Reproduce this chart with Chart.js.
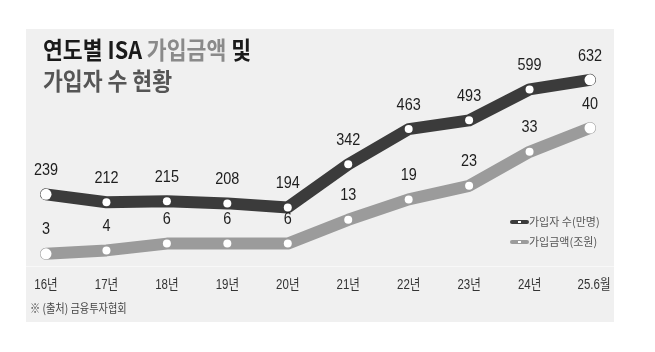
<!DOCTYPE html>
<html><head><meta charset="utf-8">
<script src="https://cdn.jsdelivr.net/npm/chart.js@4/dist/chart.umd.min.js"></script>
<style>html,body{margin:0;padding:0;background:#fff}#w{width:655px;height:352px}</style>
</head><body><div id="w"><canvas id="c" width="655" height="352"></canvas></div>
<script>
const categories = ['16년','17년','18년','19년','20년','21년','22년','23년','24년','25.6월'];
const subscribers = [239,212,215,208,194,342,463,493,599,632];
const amounts = [3,4,6,6,6,13,19,23,33,40];
const seriesNames = ['가입자 수(만명)','가입금액(조원)'];

const DARK = '#3b3b3b', GRAY = '#9b9b9b';
const NUM_FONT = '17px "Liberation Sans", Arial, sans-serif';
const KR = '"Noto Sans CJK KR", "Noto Sans", sans-serif';

const n = categories.length;
const radii = categories.map((_, i) => (i === 0 || i === n - 1) ? 5.5 : 4);

function squeezed(ctx, text, x, y, sx) {
  ctx.save();
  ctx.translate(x, y);
  ctx.scale(sx, 1);
  ctx.fillText(text, 0, 0);
  ctx.restore();
}

const deco = {
  id: 'deco',
  beforeDraw(chart) {
    const ctx = chart.ctx;
    ctx.save();
    ctx.fillStyle = '#fff';
    ctx.fillRect(0, 0, 655, 352);
    ctx.fillStyle = '#f0f0f0';
    ctx.fillRect(26, 29, 588, 293);
    ctx.strokeStyle = '#f8f8f8';
    ctx.lineWidth = 1;
    ctx.beginPath(); ctx.moveTo(26, 266.5); ctx.lineTo(614, 266.5); ctx.stroke();
    // title
    ctx.textBaseline = 'middle';
    ctx.textAlign = 'left';
    ctx.font = 'bold 24px ' + KR;
    const sx = 0.9;
    let x = 43;
    const parts = [['연도별 ISA ', '#1a1a1a'], ['가입금액', '#8a8a8a'], [' 및', '#1a1a1a']];
    for (const [t, c] of parts) { ctx.fillStyle = c; squeezed(ctx, t, x, 50, sx); x += ctx.measureText(t).width * sx; }
    ctx.fillStyle = '#555';
    squeezed(ctx, '가입자 수 현황', 43, 81, sx);
    ctx.restore();
  },
  afterDatasetsDraw(chart) {
    const ctx = chart.ctx;
    ctx.save();
    // data labels
    ctx.font = NUM_FONT;
    ctx.fillStyle = '#1e1e1e';
    ctx.textAlign = 'center';
    ctx.textBaseline = 'middle';
    chart.data.datasets.forEach((ds, di) => {
      const meta = chart.getDatasetMeta(di);
      meta.data.forEach((pt, i) => {
        squeezed(ctx, String(ds.data[i]), pt.x, pt.y - 24, 0.85);
      });
    });
    // x labels
    ctx.font = '14px "Liberation Sans", "Noto Sans CJK KR", sans-serif';
    ctx.fillStyle = '#333';
    const xs = chart.scales.x;
    categories.forEach((c, i) => {
      squeezed(ctx, c, xs.getPixelForValue(i) + (i === n - 1 ? 4 : 0), 285, 0.82);
    });
    // source
    ctx.textAlign = 'left';
    ctx.font = '12px ' + KR;
    ctx.fillStyle = '#444';
    squeezed(ctx, '※ (출처) 금융투자협회', 30, 308, 0.85);
    // legend
    const leg = [[seriesNames[0], DARK, 222], [seriesNames[1], GRAY, 242]];
    for (const [t, c, y] of leg) {
      ctx.strokeStyle = c; ctx.lineWidth = 4; ctx.lineCap = 'round';
      ctx.beginPath(); ctx.moveTo(512, y); ctx.lineTo(527, y); ctx.stroke();
      ctx.fillStyle = '#fff'; ctx.fillRect(518, y - 1, 3, 2);
      ctx.fillStyle = '#555';
      ctx.font = '11px ' + KR;
      ctx.fillText(t, 529, y);
    }
    ctx.restore();
  }
};

new Chart(document.getElementById('c'), {
  type: 'line',
  data: {
    labels: categories,
    datasets: [
      { label: seriesNames[0], data: subscribers, yAxisID: 'y1', borderColor: DARK, borderWidth: 12,
        borderCapStyle: 'round', borderJoinStyle: 'round', tension: 0,
        pointRadius: radii, pointBackgroundColor: '#fff', pointBorderWidth: 0, pointBorderColor: '#fff' },
      { label: seriesNames[1], data: amounts, yAxisID: 'y2', borderColor: GRAY, borderWidth: 12,
        borderCapStyle: 'round', borderJoinStyle: 'round', tension: 0,
        pointRadius: radii, pointBackgroundColor: '#fff', pointBorderWidth: 0, pointBorderColor: '#fff' }
    ]
  },
  options: {
    responsive: false, animation: false, devicePixelRatio: 1,
    layout: { padding: { left: 46, right: 65, top: 60, bottom: 88 } },
    plugins: { legend: { display: false }, tooltip: { enabled: false }, title: { display: false } },
    scales: {
      x: { display: false, offset: false },
      y1: { display: false, min: 0, max: 700 },
      y2: { display: false, min: 0, max: 60 }
    }
  },
  plugins: [deco]
});
</script></body></html>
